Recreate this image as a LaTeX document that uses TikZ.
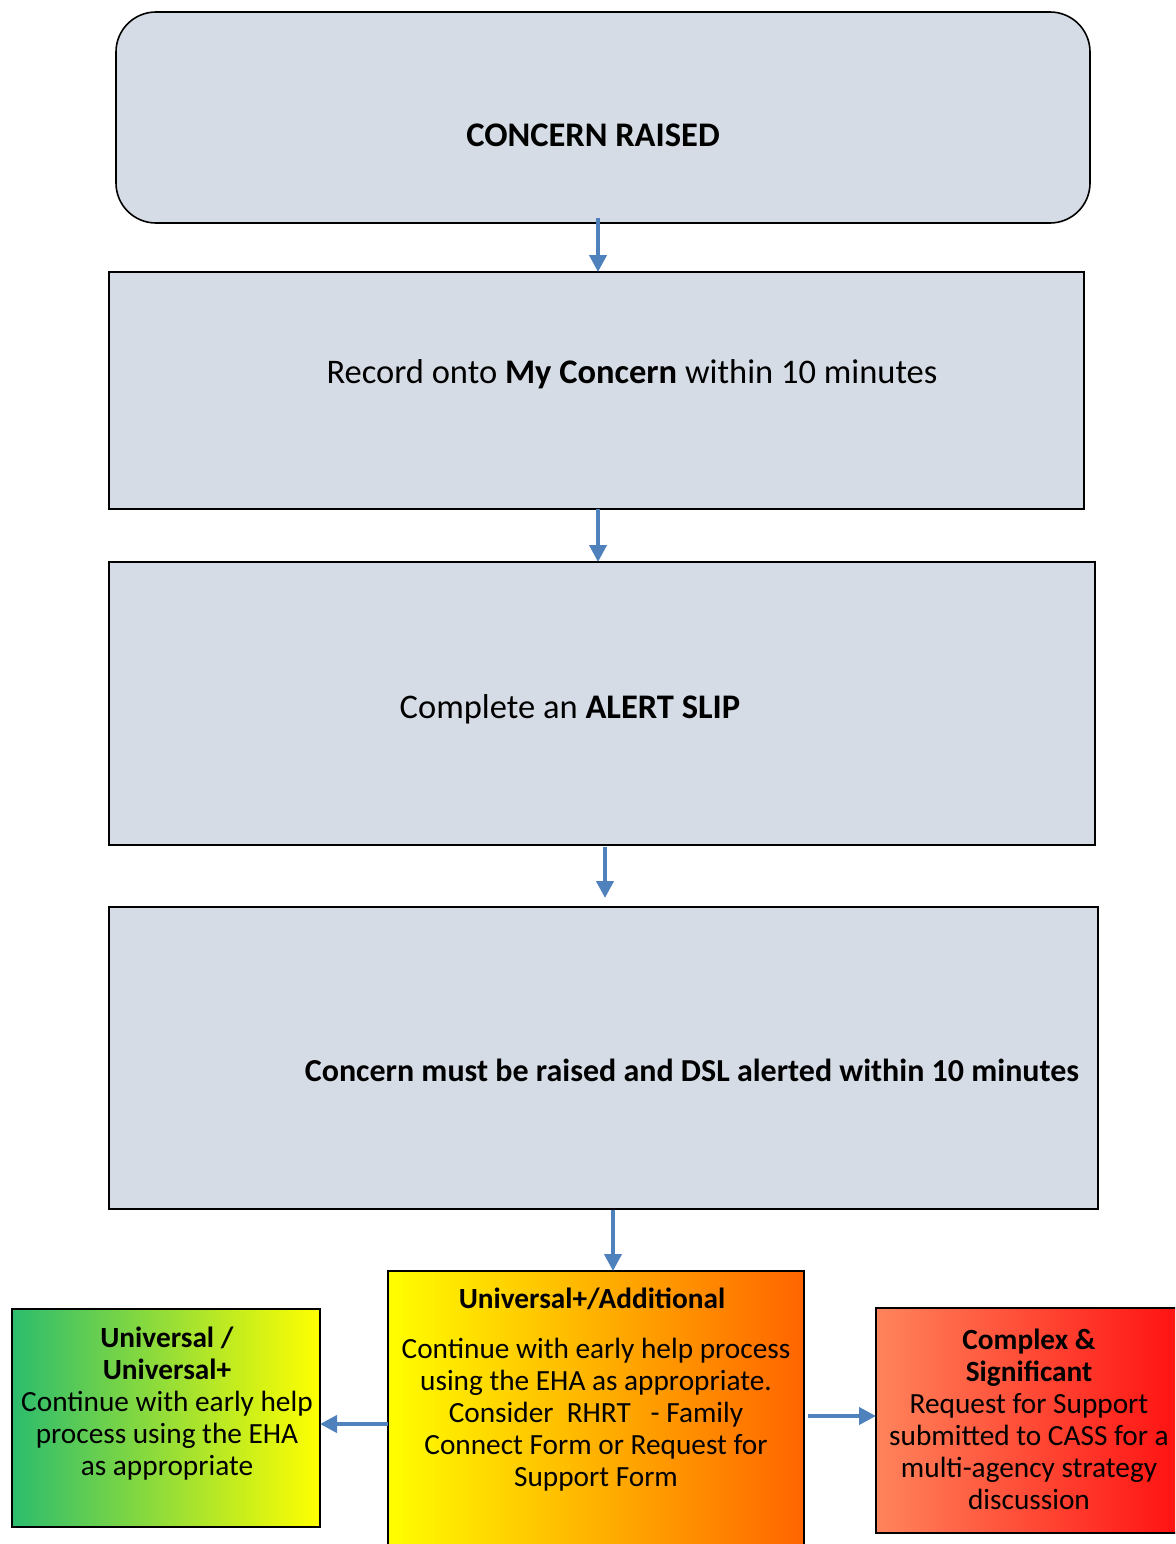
\documentclass[tikz,border=0pt]{standalone}
\usepackage{fontspec}
\setmainfont{Carlito}
\usetikzlibrary{arrows.meta}
\definecolor{boxfill}{RGB}{214,220,229}
\definecolor{arrowblue}{RGB}{79,129,189}
\definecolor{ehgreen}{RGB}{44,188,110}
\definecolor{ehorange}{RGB}{255,100,0}
\definecolor{ehsalmon}{RGB}{255,132,92}
\definecolor{ehred}{RGB}{255,16,16}
\tikzset{
  greybox/.style={draw=black, line width=1.6pt, fill=boxfill, inner sep=0pt},
  bigtext/.style={font=\fontsize{34.5}{40}\selectfont, inner sep=0pt},
  smalltext/.style={font=\fontsize{29.3}{32}\selectfont, align=center, inner sep=0pt},
  flow/.style={draw=arrowblue, line width=4pt, -{Triangle[width=17pt,length=17pt]}},
}
\begin{document}
\begin{tikzpicture}[x=1pt,y=-1pt]
\useasboundingbox (0,0) rectangle (1175,1544);
\clip (0,0) rectangle (1175,1544);
% grey boxes
\draw[greybox, rounded corners=40pt] (116,12) rectangle (1090,223);
\node[bigtext] (t1) at (593,135) {\textbf{CONCERN RAISED}};
\coordinate (b1) at (598,218);
\draw[greybox] (109,272) rectangle (1084,509);
\node[bigtext] (t2) at (632,374) {Record onto \textbf{My Concern} within 10 minutes};
\coordinate (a2) at (598,272);
\coordinate (b2) at (598,509);
\draw[greybox] (109,562) rectangle (1095,845);
\node[bigtext] (t3) at (570,709) {Complete an \textbf{ALERT SLIP}};
\coordinate (a3) at (598,562);
\coordinate (b3) at (605,847);
\draw[greybox] (109,907) rectangle (1098,1209);
\node[bigtext, font=\fontsize{32}{38}\selectfont] (t4) at (692,1070) {\textbf{Concern must be raised and DSL alerted within 10 minutes}};
\coordinate (a4) at (605,898);
\coordinate (b4) at (613,1210);
% bottom boxes
\draw[line width=1.6pt, left color=yellow, right color=ehorange] (388,1271) rectangle (804,1560);
\coordinate (a5) at (613,1271);
\node[smalltext, font=\fontsize{29.3}{32}\selectfont\bfseries] (t5h) at (592,1299) {Universal+/Additional};
\node[smalltext] (t5) at (596,1415) {Continue with early help process\\using the EHA as appropriate.\\Consider~~RHRT~~~- Family\\Connect Form or Request for\\Support Form};
\draw[line width=1.6pt, left color=ehgreen, right color=yellow] (12,1309) rectangle (320,1527);
\node[smalltext] (t6) at (167,1404) {\textbf{Universal /}\\\textbf{Universal+}\\Continue with early help\\process using the EHA\\as appropriate};
\draw[line width=1.6pt, left color=ehsalmon, right color=ehred] (876,1308) rectangle (1185,1533);
\node[smalltext] (t7) at (1029,1419) {\textbf{Complex \&}\\\textbf{Significant}\\Request for Support\\submitted to CASS for a\\multi-agency strategy\\discussion};
% arrows
\coordinate (l1) at (388,1424);
\coordinate (l2) at (320,1424);
\coordinate (r1) at (808,1416);
\coordinate (r2) at (876,1416);
\draw[flow] (b1) -- (a2);
\draw[flow] (b2) -- (a3);
\draw[flow] (b3) -- (a4);
\draw[flow] (b4) -- (a5);
\draw[flow] (l1) -- (l2);
\draw[flow] (r1) -- (r2);
\end{tikzpicture}
\end{document}
